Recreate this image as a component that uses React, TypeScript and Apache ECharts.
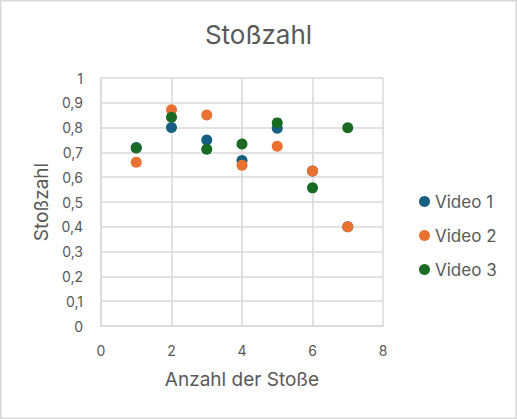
import { useRef, useEffect } from 'react';
import * as echarts from 'echarts';

const xValues = [1, 2, 3, 4, 5, 6, 7];
const video1 = [0.72, 0.80, 0.75, 0.667, 0.797, 0.625, 0.40];
const video2 = [0.66, 0.872, 0.851, 0.648, 0.725, 0.625, 0.40];
const video3 = [0.718, 0.842, 0.713, 0.734, 0.819, 0.557, 0.799];
const seriesNames = ['Video 1', 'Video 2', 'Video 3'];
const seriesColors = ['#156082', '#E97132', '#196B24'];

const FONT = 'Inter, "Noto Sans", sans-serif';
const TEXT = '#595959';
const GRID = '#d9d9d9';

const App = () => {
    const chartRef = useRef<HTMLDivElement>(null);

    useEffect(() => {
        if (!chartRef.current) return;
        const chart = echarts.init(chartRef.current, null, { renderer: 'svg' });
        const allSeries = [video1, video2, video3].map((vals, i) => ({
            name: seriesNames[i],
            type: 'scatter',
            symbol: 'circle',
            symbolSize: 11,
            itemStyle: { color: seriesColors[i], opacity: 1 },
            data: vals.map((v, j) => [xValues[j], v]),
        }));
        chart.setOption({
            animation: false,
            textStyle: { fontFamily: FONT, color: TEXT },
            title: {
                text: 'Stoßzahl',
                left: 'center',
                top: 16,
                textStyle: { fontFamily: FONT, color: TEXT, fontSize: 26, fontWeight: 'normal' },
            },
            graphic: [{
                type: 'rect',
                shape: { x: 0.75, y: 0.75, width: 515.5, height: 417.5 },
                style: { fill: 'none', stroke: GRID, lineWidth: 1.5 },
                silent: true,
            }],
            legend: {
                orient: 'vertical',
                left: 414,
                top: 188,
                itemGap: 17,
                itemWidth: 11,
                itemHeight: 11,
                icon: 'circle',
                data: seriesNames,
                textStyle: { fontFamily: FONT, color: TEXT, fontSize: 17 },
            },
            grid: { left: 101, right: 134, top: 78, bottom: 93 },
            xAxis: {
                type: 'value',
                min: 0,
                max: 8,
                interval: 2,
                name: 'Anzahl der Stoße',
                nameLocation: 'middle',
                nameGap: 44,
                nameTextStyle: { fontFamily: FONT, color: TEXT, fontSize: 19 },
                axisLine: { show: true, lineStyle: { color: GRID, width: 1.5 } },
                axisTick: { show: false },
                axisLabel: { margin: 17, fontFamily: FONT, color: TEXT, fontSize: 14 },
                splitLine: { show: true, lineStyle: { color: GRID, width: 1.5 } },
            },
            yAxis: {
                type: 'value',
                min: 0,
                max: 1,
                interval: 0.1,
                name: 'Stoßzahl',
                nameLocation: 'middle',
                nameGap: 49,
                nameTextStyle: { fontFamily: FONT, color: TEXT, fontSize: 19 },
                axisLine: { show: true, lineStyle: { color: GRID, width: 1.5 } },
                axisTick: { show: false },
                axisLabel: {
                    margin: 18,
                    fontFamily: FONT,
                    color: TEXT,
                    fontSize: 14,
                    formatter: (v: number) => String(Math.round(v * 10) / 10).replace('.', ','),
                },
                splitLine: { show: true, lineStyle: { color: GRID, width: 1.5 } },
            },
            series: allSeries,
        });
        return () => {
            chart.dispose();
        };
    }, []);

    return (
        <div
            ref={chartRef}
            style={{ position: 'fixed', left: 0, top: 0, width: 517, height: 419, background: '#fff' }}
        />
    );
};

export default App;
